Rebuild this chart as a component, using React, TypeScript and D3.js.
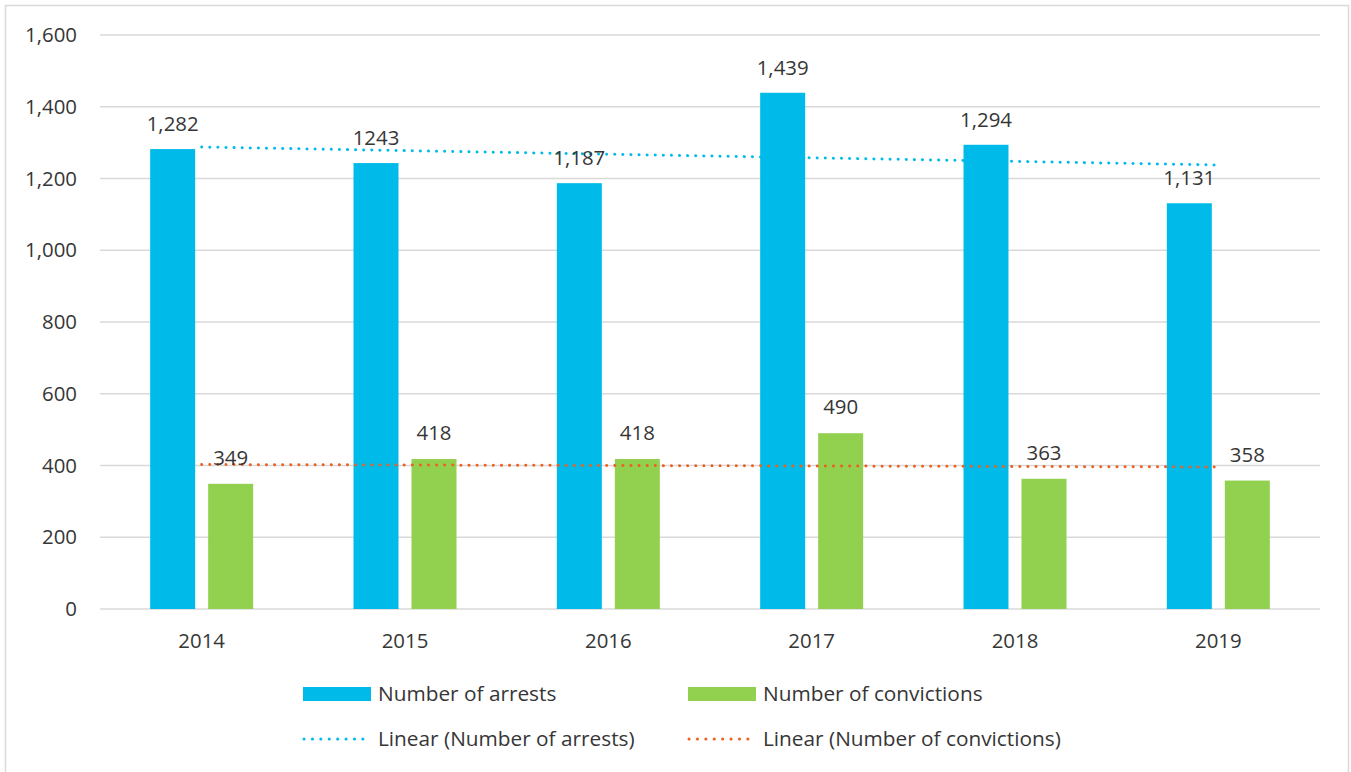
import React from "react";
import * as d3 from "d3";

const years = ["2014", "2015", "2016", "2017", "2018", "2019"];
const arrests = [1282, 1243, 1187, 1439, 1294, 1131];
const convictions = [349, 418, 418, 490, 363, 358];
const arrestLabels = ["1,282", "1243", "1,187", "1,439", "1,294", "1,131"];
const convictionLabels = ["349", "418", "418", "490", "363", "358"];
const yTicks = [0, 200, 400, 600, 800, 1000, 1200, 1400, 1600];

const W = 1351;
const H = 772;
const left = 100;
const right = 1320;
const top = 35;
const bottom = 609;
const FONT = "'Open Sans', sans-serif";
const TXT = "#363636";
const BLUE = "#00BBE9";
const GREEN = "#92D050";
const ORANGE = "#EF5F1F";
const FS = 20.4;
const LFS = 20.8;

function linearFit(vals: number[]) {
  const xs = vals.map((_, i) => i + 1);
  const mx = d3.mean(xs)!;
  const my = d3.mean(vals)!;
  let num = 0, den = 0;
  xs.forEach((x, i) => { num += (x - mx) * (vals[i] - my); den += (x - mx) ** 2; });
  const slope = num / den;
  return xs.map((x) => my + slope * (x - mx));
}

export default function App() {
  const x = d3.scaleBand<string>().domain(years).range([left, right]).paddingInner(0).paddingOuter(0);
  const y = d3.scaleLinear().domain([0, 1600]).range([bottom, top]);
  const bw = x.bandwidth();
  const barW = 45;
  const gap = 13;
  const off = (bw - 2 * barW - gap) / 2;
  const fmt = d3.format(",");

  const arrTrend = linearFit(arrests);
  const convTrend = linearFit(convictions);
  const line = d3.line<number>().x((_, i) => x(years[i])! + bw / 2).y((v) => y(v));

  return (
    <svg width={W} height={H} style={{ position: "absolute", left: 0, top: 0, background: "#fff" }}>
      <rect x={5.5} y={5.5} width={1343} height={770} fill="#fff" stroke="#d9d9d9" strokeWidth={1.5} />
      {yTicks.map((t) => (
        <g key={t}>
          <line x1={left} x2={right} y1={y(t)} y2={y(t)} stroke="#d9d9d9" strokeWidth={1.5} />
          <text x={77} y={y(t) + 7} textAnchor="end" fontFamily={FONT} fontSize={FS} fill={TXT}>{fmt(t)}</text>
        </g>
      ))}
      {years.map((yr, i) => {
        const x0 = x(yr)!;
        return (
          <g key={yr}>
            <rect x={x0 + off} y={y(arrests[i])} width={barW} height={bottom - y(arrests[i])} fill={BLUE} />
            <rect x={x0 + off + barW + gap} y={y(convictions[i])} width={barW} height={bottom - y(convictions[i])} fill={GREEN} />
            <text x={x0 + bw / 2} y={648} textAnchor="middle" fontFamily={FONT} fontSize={FS} fill={TXT}>{yr}</text>
          </g>
        );
      })}
      <path d={line(arrTrend)!} fill="none" stroke={BLUE} strokeWidth={3} strokeDasharray="0.1 8" strokeLinecap="round" />
      <path d={line(convTrend)!} fill="none" stroke={ORANGE} strokeWidth={3} strokeDasharray="0.1 8" strokeLinecap="round" />
      {years.map((yr, i) => {
        const x0 = x(yr)!;
        return (
          <g key={"l" + yr}>
            <text x={x0 + off + barW / 2} y={y(arrests[i]) - 18} textAnchor="middle" fontFamily={FONT} fontSize={FS} fill={TXT}>{arrestLabels[i]}</text>
            <text x={x0 + off + barW * 1.5 + gap} y={y(convictions[i]) - 19} textAnchor="middle" fontFamily={FONT} fontSize={FS} fill={TXT}>{convictionLabels[i]}</text>
          </g>
        );
      })}
      <g fontFamily={FONT} fontSize={LFS} fill={TXT}>
        <rect x={303} y={687} width={68} height={14} fill={BLUE} />
        <text x={378} y={701}>Number of arrests</text>
        <rect x={688} y={687} width={68} height={14} fill={GREEN} />
        <text x={763} y={701}>Number of convictions</text>
        <line x1={304} x2={371} y1={739} y2={739} stroke={BLUE} strokeWidth={3} strokeDasharray="0.1 8.3" strokeLinecap="round" />
        <text x={378} y={746}>Linear (Number of arrests)</text>
        <line x1={689} x2={756} y1={739} y2={739} stroke={ORANGE} strokeWidth={3} strokeDasharray="0.1 8.3" strokeLinecap="round" />
        <text x={763} y={746}>Linear (Number of convictions)</text>
      </g>
    </svg>
  );
}
